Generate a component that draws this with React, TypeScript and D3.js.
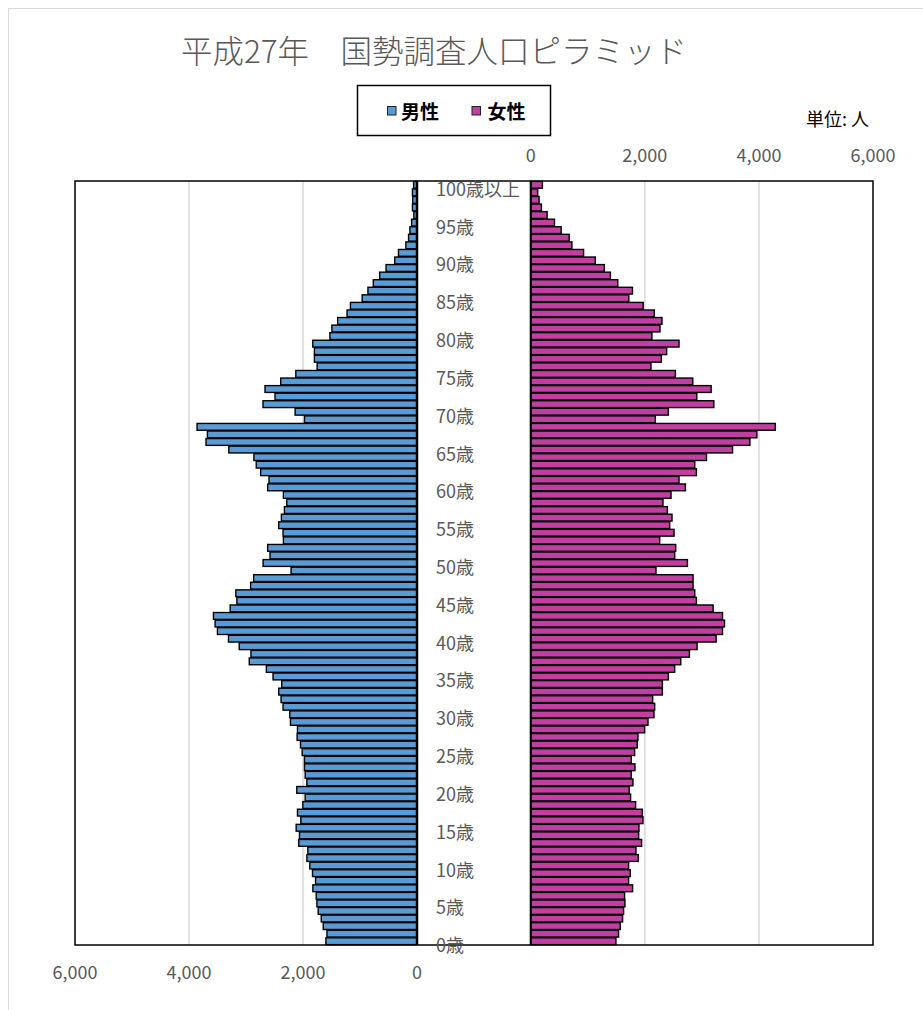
import React from "react";
import * as d3 from "d3";

// Ages 0..100 (100 = 100歳以上)
const ages: number[] = Array.from({ length: 101 }, (_, i) => i);

const male: number[] = [
  1598, 1580, 1645, 1680, 1733, 1756, 1768, 1827, 1780, 1833,
  1880, 1932, 1915, 2074, 2062, 2120, 2038, 2097, 2003, 1962,
  2109, 1932, 1962, 1974, 1974, 2015, 2044, 2103, 2097, 2220,
  2232, 2350, 2385, 2426, 2373, 2526, 2643, 2943, 2913, 3119,
  3307, 3501, 3542, 3571, 3278, 3160, 3178, 2919, 2866, 2209,
  2700, 2579, 2620, 2344, 2350, 2426, 2379, 2326, 2285, 2344,
  2620, 2596, 2743, 2820, 2861, 3301, 3701, 3677, 3859, 1974,
  2138, 2702, 2491, 2667, 2391, 2126, 1752, 1800, 1800, 1829,
  1528, 1493, 1392, 1227, 1168, 962, 861, 767, 655, 543,
  390, 325, 195, 148, 124, 95, 55, 80, 75, 80,
  60,
];

const female: number[] = [
  1494, 1540, 1570, 1611, 1628, 1652, 1646, 1786, 1716, 1745,
  1716, 1886, 1845, 1944, 1892, 1898, 1968, 1956, 1839, 1751,
  1728, 1792, 1763, 1827, 1763, 1822, 1868, 1880, 1997, 2056,
  2161, 2173, 2138, 2308, 2308, 2413, 2524, 2630, 2782, 2917,
  3251, 3362, 3397, 3362, 3198, 2905, 2876, 2846, 2846, 2196,
  2747, 2524, 2542, 2261, 2513, 2436, 2477, 2396, 2319, 2460,
  2712, 2600, 2905, 2876, 3081, 3538, 3842, 3965, 4287, 2185,
  2413, 3210, 2911, 3163, 2841, 2536, 2108, 2289, 2383, 2600,
  2125, 2266, 2301, 2166, 1972, 1720, 1784, 1526, 1397, 1291,
  1133, 927, 722, 675, 534, 417, 288, 188, 147, 123,
  205,
];

const labeledAges: number[] = [100, 95, 90, 85, 80, 75, 70, 65, 60, 55, 50, 45, 40, 35, 30, 25, 20, 15, 10, 5, 0];
const ageLabel = (a: number) => (a === 100 ? "100歳以上" : `${a}歳`);

const ticks: number[] = [0, 2000, 4000, 6000];

const titleText = "平成27年　国勢調査人口ピラミッド";
const seriesNames = ["男性", "女性"];
const unitText = "単位: 人";

const BLUE = "#5B9BD5";
const MAGENTA = "#C13FA1";
const GRAY_TEXT = "#595959";
const GRID = "#d9d9d9";
const FONT = "'Noto Sans CJK JP', 'Noto Sans', sans-serif";

export default function App() {
  const top = 181;
  const bottom = 945;
  const leftZero = 417;
  const leftMax = 75;
  const rightZero = 530.7;
  const rightMax = 873;

  const xL = d3.scaleLinear().domain([0, 6000]).range([leftZero, leftMax]);
  const xR = d3.scaleLinear().domain([0, 6000]).range([rightZero, rightMax]);
  const y = d3
    .scaleBand<number>()
    .domain(ages.slice().reverse())
    .range([top, bottom])
    .paddingInner(0.1)
    .paddingOuter(0.05);
  const bh = y.bandwidth();

  return (
    <svg
      width={923}
      height={1010}
      style={{ position: "absolute", left: 0, top: 0, fontFamily: FONT }}
    >
      <rect x={0} y={0} width={923} height={1010} fill="#fff" />
      <rect x={8.5} y={8.5} width={1000} height={1100} fill="#fff" stroke={GRID} strokeWidth={1} />

      {/* Title */}
      <text x={434} y={63} textAnchor="middle" fontSize={31.5} fill={GRAY_TEXT} fontWeight={300}>
        {titleText}
      </text>

      {/* Legend */}
      <rect x={357.5} y={85.5} width={193} height={50} fill="#fff" stroke="#000" strokeWidth={1.5} />
      <rect x={387.5} y={106.5} width={8.5} height={8.5} fill={BLUE} stroke="#222" strokeWidth={1} />
      <text x={401} y={110.5} dominantBaseline="central" fontSize={19} fontWeight={700} fill="#000">
        {seriesNames[0]}
      </text>
      <rect x={472} y={106.5} width={8.5} height={8.5} fill={MAGENTA} stroke="#222" strokeWidth={1} />
      <text x={487.5} y={110.5} dominantBaseline="central" fontSize={19} fontWeight={700} fill="#000">
        {seriesNames[1]}
      </text>

      {/* Unit */}
      <text x={806} y={118} dominantBaseline="central" fontSize={18} fill="#000">
        {unitText}
      </text>

      {/* Gridlines */}
      {ticks.slice(1, 3).map((t) => (
        <line key={"gl" + t} x1={xL(t)} x2={xL(t)} y1={top} y2={bottom} stroke={GRID} strokeWidth={1.5} />
      ))}
      {ticks.slice(1, 3).map((t) => (
        <line key={"gr" + t} x1={xR(t)} x2={xR(t)} y1={top} y2={bottom} stroke={GRID} strokeWidth={1.5} />
      ))}

      {/* Male bars */}
      {ages.map((a) => (
        <rect
          key={"m" + a}
          x={xL(male[a])}
          y={y(a)}
          width={leftZero - xL(male[a])}
          height={bh}
          fill={BLUE}
          stroke="#000"
          strokeWidth={1.4}
        />
      ))}
      {/* Female bars */}
      {ages.map((a) => (
        <rect
          key={"f" + a}
          x={rightZero}
          y={y(a)}
          width={xR(female[a]) - rightZero}
          height={bh}
          fill={MAGENTA}
          stroke="#000"
          strokeWidth={1.4}
        />
      ))}

      {/* zero axis lines */}
      <line x1={leftZero} x2={leftZero} y1={top} y2={bottom} stroke="#000" strokeWidth={2.5} />
      <line x1={rightZero} x2={rightZero} y1={top} y2={bottom} stroke="#000" strokeWidth={2} />

      {/* Plot border */}
      <rect x={leftMax} y={top} width={rightMax - leftMax} height={bottom - top} fill="none" stroke="#000" strokeWidth={1.5} />

      {/* Age labels */}
      {labeledAges.map((a) => (
        <text
          key={"al" + a}
          x={436}
          y={(y(a) as number) + bh / 2 + 3}
          dominantBaseline="central"
          fontSize={18}
          fill={GRAY_TEXT}
        >
          {ageLabel(a)}
        </text>
      ))}

      {/* Top (female) axis labels */}
      {ticks.map((t) => (
        <text key={"tt" + t} x={xR(t)} y={154} textAnchor="middle" dominantBaseline="central" fontSize={18} fill={GRAY_TEXT}>
          {d3.format(",")(t)}
        </text>
      ))}
      {/* Bottom (male) axis labels */}
      {ticks.map((t) => (
        <text key={"bt" + t} x={xL(t)} y={971} textAnchor="middle" dominantBaseline="central" fontSize={18} fill={GRAY_TEXT}>
          {d3.format(",")(t)}
        </text>
      ))}
    </svg>
  );
}
